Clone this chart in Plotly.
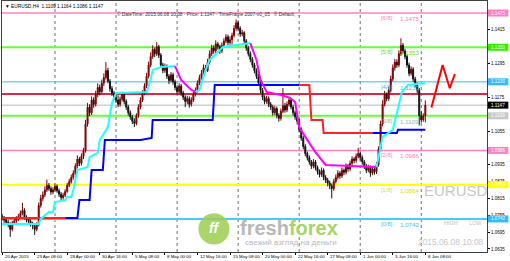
import plotly.graph_objects as go

# ---------------- data ----------------
bar_index = list(range(209))

open_ = [1.0752,1.0745,1.0738,1.0730,1.0722,1.0705,1.0728,1.0735,1.0742,1.0750,
         1.0762,1.0772,1.0748,1.0740,1.0733,1.0725,1.0718,1.0705,1.0722,1.0790,
         1.0815,1.0828,1.0845,1.0862,1.0850,1.0838,1.0846,1.0858,1.0842,1.0830,
         1.0818,1.0826,1.0840,1.0862,1.0875,1.0890,1.0905,1.0930,1.0955,1.0940,
         1.0965,1.0985,1.1080,1.1140,1.1120,1.1165,1.1150,1.1185,1.1210,1.1195,
         1.1225,1.1245,1.1270,1.1232,1.1205,1.1190,1.1175,1.1165,1.1150,1.1168,
         1.1185,1.1160,1.1140,1.1120,1.1105,1.1090,1.1082,1.1110,1.1140,1.1165,
         1.1190,1.1215,1.1250,1.1290,1.1320,1.1345,1.1330,1.1355,1.1325,1.1290,
         1.1270,1.1285,1.1250,1.1235,1.1255,1.1230,1.1210,1.1195,1.1215,1.1190,
         1.1175,1.1160,1.1170,1.1150,1.1165,1.1185,1.1200,1.1225,1.1245,1.1260,
         1.1280,1.1270,1.1300,1.1330,1.1350,1.1340,1.1365,1.1355,1.1340,1.1360,
         1.1375,1.1390,1.1370,1.1380,1.1395,1.1420,1.1440,1.1420,1.1400,1.1405,
         1.1375,1.1350,1.1330,1.1310,1.1290,1.1270,1.1250,1.1225,1.1200,1.1175,
         1.1160,1.1170,1.1150,1.1140,1.1120,1.1135,1.1110,1.1100,1.1125,1.1145,
         1.1130,1.1150,1.1165,1.1140,1.1120,1.1105,1.1090,1.1060,1.1030,1.1000,
         1.0975,1.0960,1.0945,1.0930,1.0945,1.0925,1.0910,1.0900,1.0915,1.0890,
         1.0880,1.0870,1.0860,1.0850,1.0875,1.0890,1.0905,1.0895,1.0915,1.0908,
         1.0930,1.0920,1.0940,1.0955,1.0950,1.0965,1.0975,1.0960,1.0945,1.0930,
         1.0915,1.0925,1.0905,1.0920,1.0910,1.0935,1.0990,1.1080,1.1150,1.1185,
         1.1170,1.1200,1.1240,1.1280,1.1300,1.1290,1.1330,1.1360,1.1340,1.1320,
         1.1290,1.1260,1.1275,1.1240,1.1220,1.1200,1.1110,1.1095,1.1109]

high = [1.0760,1.0752,1.0745,1.0738,1.0730,1.0735,1.0745,1.0752,1.0760,1.0772,
        1.0799,1.0780,1.0755,1.0748,1.0740,1.0732,1.0725,1.0730,1.0800,1.0828,
        1.0840,1.0858,1.0882,1.0870,1.0858,1.0855,1.0868,1.0865,1.0850,1.0838,
        1.0835,1.0848,1.0870,1.0885,1.0900,1.0915,1.0940,1.0968,1.0962,1.0975,
        1.0995,1.1095,1.1155,1.1150,1.1178,1.1175,1.1198,1.1225,1.1220,1.1238,
        1.1260,1.1300,1.1280,1.1240,1.1215,1.1198,1.1185,1.1182,1.1178,1.1195,
        1.1190,1.1168,1.1148,1.1128,1.1112,1.1100,1.1118,1.1150,1.1175,1.1200,
        1.1225,1.1262,1.1302,1.1335,1.1360,1.1352,1.1372,1.1362,1.1332,1.1298,
        1.1295,1.1292,1.1258,1.1265,1.1262,1.1238,1.1218,1.1225,1.1222,1.1198,
        1.1182,1.1180,1.1178,1.1175,1.1195,1.1210,1.1235,1.1255,1.1272,1.1292,
        1.1290,1.1312,1.1342,1.1362,1.1360,1.1378,1.1372,1.1362,1.1370,1.1385,
        1.1400,1.1398,1.1392,1.1405,1.1432,1.1452,1.1448,1.1428,1.1415,1.1410,
        1.1382,1.1358,1.1338,1.1318,1.1298,1.1278,1.1258,1.1232,1.1208,1.1182,
        1.1180,1.1178,1.1158,1.1148,1.1145,1.1142,1.1118,1.1135,1.1208,1.1155,
        1.1160,1.1175,1.1172,1.1148,1.1128,1.1112,1.1098,1.1068,1.1038,1.1008,
        1.0982,1.0968,1.0952,1.0955,1.0952,1.0932,1.0918,1.0925,1.0922,1.0898,
        1.0888,1.0878,1.0868,1.0885,1.0900,1.0915,1.0912,1.0925,1.0922,1.0940,
        1.0938,1.0950,1.0965,1.0962,1.0975,1.0995,1.0982,1.0968,1.0952,1.0938,
        1.0935,1.0932,1.0930,1.0928,1.0945,1.1000,1.1092,1.1165,1.1198,1.1192,
        1.1212,1.1252,1.1292,1.1312,1.1310,1.1342,1.1385,1.1368,1.1348,1.1328,
        1.1298,1.1285,1.1282,1.1248,1.1228,1.1208,1.1125,1.1118,1.1164]

low = [1.0736,1.0728,1.0720,1.0712,1.0678,1.0698,1.0720,1.0728,1.0735,1.0744,
       1.0755,1.0740,1.0730,1.0722,1.0715,1.0705,1.0685,1.0698,1.0715,1.0782,
       1.0805,1.0820,1.0838,1.0842,1.0828,1.0830,1.0840,1.0835,1.0820,1.0808,
       1.0810,1.0820,1.0835,1.0855,1.0868,1.0882,1.0898,1.0922,1.0930,1.0932,
       1.0955,1.0978,1.1070,1.1108,1.1112,1.1138,1.1142,1.1175,1.1182,1.1188,
       1.1215,1.1238,1.1225,1.1195,1.1180,1.1165,1.1155,1.1140,1.1142,1.1160,
       1.1150,1.1130,1.1110,1.1095,1.1080,1.1069,1.1075,1.1102,1.1132,1.1158,
       1.1182,1.1208,1.1242,1.1282,1.1312,1.1318,1.1322,1.1315,1.1280,1.1260,
       1.1262,1.1240,1.1222,1.1228,1.1220,1.1200,1.1185,1.1188,1.1180,1.1165,
       1.1140,1.1150,1.1138,1.1142,1.1158,1.1178,1.1192,1.1218,1.1238,1.1252,
       1.1262,1.1265,1.1292,1.1322,1.1330,1.1332,1.1345,1.1330,1.1332,1.1352,
       1.1368,1.1360,1.1362,1.1362,1.1388,1.1412,1.1410,1.1390,1.1392,1.1365,
       1.1340,1.1320,1.1300,1.1280,1.1260,1.1240,1.1215,1.1190,1.1165,1.1150,
       1.1152,1.1140,1.1130,1.1110,1.1112,1.1100,1.1088,1.1092,1.1118,1.1120,
       1.1122,1.1142,1.1132,1.1110,1.1095,1.1078,1.1050,1.1020,1.0990,1.0965,
       1.0950,1.0935,1.0920,1.0922,1.0915,1.0900,1.0890,1.0892,1.0880,1.0870,
       1.0858,1.0848,1.0815,1.0842,1.0868,1.0882,1.0885,1.0888,1.0898,1.0900,
       1.0910,1.0912,1.0932,1.0940,1.0942,1.0958,1.0950,1.0935,1.0920,1.0905,
       1.0908,1.0892,1.0898,1.0900,1.0902,1.0928,1.0982,1.1072,1.1142,1.1160,
       1.1162,1.1192,1.1232,1.1270,1.1280,1.1282,1.1322,1.1330,1.1310,1.1280,
       1.1250,1.1252,1.1230,1.1210,1.1190,1.1075,1.1085,1.1088,1.1086]

close = [1.0745,1.0738,1.0730,1.0722,1.0705,1.0728,1.0735,1.0742,1.0750,1.0762,
         1.0772,1.0748,1.0740,1.0733,1.0725,1.0718,1.0705,1.0722,1.0790,1.0815,
         1.0828,1.0845,1.0862,1.0850,1.0838,1.0846,1.0858,1.0842,1.0830,1.0818,
         1.0826,1.0840,1.0862,1.0875,1.0890,1.0905,1.0930,1.0955,1.0940,1.0965,
         1.0985,1.1080,1.1140,1.1120,1.1165,1.1150,1.1185,1.1210,1.1195,1.1225,
         1.1245,1.1270,1.1232,1.1205,1.1190,1.1175,1.1165,1.1150,1.1168,1.1185,
         1.1160,1.1140,1.1120,1.1105,1.1090,1.1082,1.1110,1.1140,1.1165,1.1190,
         1.1215,1.1250,1.1290,1.1320,1.1345,1.1330,1.1355,1.1325,1.1290,1.1270,
         1.1285,1.1250,1.1235,1.1255,1.1230,1.1210,1.1195,1.1215,1.1190,1.1175,
         1.1160,1.1170,1.1150,1.1165,1.1185,1.1200,1.1225,1.1245,1.1260,1.1280,
         1.1270,1.1300,1.1330,1.1350,1.1340,1.1365,1.1355,1.1340,1.1360,1.1375,
         1.1390,1.1370,1.1380,1.1395,1.1420,1.1440,1.1420,1.1400,1.1405,1.1375,
         1.1350,1.1330,1.1310,1.1290,1.1270,1.1250,1.1225,1.1200,1.1175,1.1160,
         1.1170,1.1150,1.1140,1.1120,1.1135,1.1110,1.1100,1.1125,1.1145,1.1130,
         1.1150,1.1165,1.1140,1.1120,1.1105,1.1090,1.1060,1.1030,1.1000,1.0975,
         1.0960,1.0945,1.0930,1.0945,1.0925,1.0910,1.0900,1.0915,1.0890,1.0880,
         1.0870,1.0860,1.0850,1.0875,1.0890,1.0905,1.0895,1.0915,1.0908,1.0930,
         1.0920,1.0940,1.0955,1.0950,1.0965,1.0975,1.0960,1.0945,1.0930,1.0915,
         1.0925,1.0905,1.0920,1.0910,1.0935,1.0990,1.1080,1.1150,1.1185,1.1170,
         1.1200,1.1240,1.1280,1.1300,1.1290,1.1330,1.1360,1.1340,1.1320,1.1290,
         1.1260,1.1275,1.1240,1.1220,1.1200,1.1110,1.1095,1.1109,1.1147]

x_tick_bars = [0, 16, 32, 48, 64, 80, 96, 112, 128, 144, 160, 176, 192, 208]
x_tick_labels = ["20 Apr 2015", "23 Apr 08:00", "28 Apr 00:00", "30 Apr 16:00",
                 "5 May 08:00", "8 May 00:00", "12 May 16:00", "15 May 08:00",
                 "20 May 00:00", "22 May 16:00", "27 May 08:00", "1 Jun 00:00",
                 "3 Jun 16:00", "8 Jun 08:00"]
week_start_bars = [26, 56, 86, 116, 146, 176, 206]

y_tick_values = [1.1415, 1.1295, 1.1175, 1.1055, 1.0935, 1.0875, 1.0815, 1.0755, 1.0695, 1.0635]

murray_levels = [1.1475, 1.1353, 1.1230, 1.1109, 1.0986, 1.0864, 1.0742]
murray_names = ["[6/8]", "[5/8]", "[4/8]", "[3/8]", "[2/8]", "[1/8]", "[0/8]"]
pivot_level = 1.1187
bid_price = 1.1147

# fast trailing line (cyan = up, magenta = down)
cyan_1_x = [0, 18, 19, 23, 25, 26, 31, 32, 34, 35, 37, 42, 43, 47, 48, 52, 54, 56, 71, 73, 74, 78, 85]
cyan_1_y = [1.0724, 1.0724, 1.0742, 1.0767, 1.0767, 1.0802, 1.0809, 1.0820, 1.0820, 1.0845, 1.0916,
            1.0927, 1.0962, 1.0977, 1.1023, 1.1069, 1.1155, 1.1190, 1.1194, 1.1237, 1.1272, 1.1283, 1.1286]
magenta_1_x = [85, 88, 93, 95]
magenta_1_y = [1.1286, 1.1237, 1.1201, 1.1194]
cyan_2_x = [95, 97, 100, 102, 107, 108.5, 115, 122]
cyan_2_y = [1.1194, 1.1201, 1.1272, 1.1308, 1.1343, 1.1354, 1.1361, 1.1368]
magenta_2_x = [122, 125, 127, 130, 137, 141.5, 144, 146, 151, 154, 159, 184]
magenta_2_y = [1.1368, 1.1308, 1.1237, 1.1194, 1.1183, 1.1173, 1.1158, 1.1069, 1.1012, 1.0980, 1.0934, 1.0927]
cyan_3_x = [184, 187, 192, 194, 196.5, 199.5, 208]
cyan_3_y = [1.0927, 1.1034, 1.1059, 1.1119, 1.1194, 1.1219, 1.1226]

# slow trailing line (blue = up, red = down)
red_1_x = [0, 31]
red_1_y = [1.0745, 1.0745]
blue_1_x = [31, 37, 38, 43, 44, 49.5, 50.5, 68, 73.5, 74, 103.5, 104.5, 146]
blue_1_y = [1.0745, 1.0745, 1.0809, 1.0809, 1.0916, 1.0916, 1.1023, 1.1023, 1.1030, 1.1094, 1.1094, 1.1219, 1.1219]
red_2_x = [146, 151, 152, 157.5, 158, 182]
red_2_y = [1.1219, 1.1219, 1.1094, 1.1094, 1.1048, 1.1048]
blue_2_x = [182, 194, 194.5, 208]
blue_2_y = [1.1048, 1.1048, 1.1059, 1.1059]

# forecast zigzag
forecast_x = [211, 216.5, 220, 222.5]
forecast_y = [1.1139, 1.1290, 1.1207, 1.1258]

# ---------------- styles ----------------
FONT = "Liberation Sans"
murray_colors = ["#ff80c0", "#66ff33", "#33bbff", "#66ff33", "#ff80c0", "#ffff00", "#44ccff"]
murray_widths = [1.5, 2, 1, 2, 1.5, 2, 2]
murray_text_colors = ["#ff80c0", "#66dd33", "#33bbff", "#99bb99", "#ff80c0", "#dddd00", "#44bbff"]
box_colors = ["#ff80c0", "#33ee00", "#33bbff", "#c8c8c8", "#ff80c0", "#ffff00", "#33bbff"]

fig = go.Figure()

fig.add_trace(go.Candlestick(
    x=bar_index, open=open_, high=high, low=low, close=close,
    increasing=dict(line=dict(color="#800000", width=1), fillcolor="#800000"),
    decreasing=dict(line=dict(color="#111111", width=1), fillcolor="#111111"),
    whiskerwidth=0, showlegend=False, hoverinfo="skip"))

def add_line(xs, ys, color, width=2):
    fig.add_trace(go.Scatter(x=xs, y=ys, mode="lines", line=dict(color=color, width=width),
                             showlegend=False, hoverinfo="skip"))

add_line(red_1_x, red_1_y, "#ff2020")
add_line(blue_1_x, blue_1_y, "#0000ff")
add_line(red_2_x, red_2_y, "#ff2020")
add_line(blue_2_x, blue_2_y, "#0000ff")
add_line(cyan_1_x, cyan_1_y, "#22ffff")
add_line(magenta_1_x, magenta_1_y, "#ff00ff")
add_line(cyan_2_x, cyan_2_y, "#22ffff")
add_line(magenta_2_x, magenta_2_y, "#ff00ff")
add_line(cyan_3_x, cyan_3_y, "#22ffff")
add_line(forecast_x, forecast_y, "#ff0000", 2)

shapes = []
annotations = []

def note(**kw):
    kw.setdefault("showarrow", False)
    kw.setdefault("xanchor", "center")
    kw.setdefault("yanchor", "middle")
    annotations.append(kw)

# weekly separators
for wb in week_start_bars:
    shapes.append(dict(type="line", xref="x", yref="paper", x0=wb, x1=wb, y0=0, y1=1,
                       line=dict(color="#707070", width=1, dash="dot"), layer="below"))

# level lines
for lv, col, w in zip(murray_levels, murray_colors, murray_widths):
    shapes.append(dict(type="line", xref="paper", yref="y", x0=0, x1=1, y0=lv, y1=lv,
                       line=dict(color=col, width=w), layer="below"))
shapes.append(dict(type="line", xref="paper", yref="y", x0=0, x1=1, y0=pivot_level, y1=pivot_level,
                   line=dict(color="#dc2846", width=2), layer="below"))
shapes.append(dict(type="line", xref="paper", yref="y", x0=0, x1=1, y0=bid_price, y1=bid_price,
                   line=dict(color="#b8b8b8", width=1), layer="below"))

# logo circle
shapes.append(dict(type="circle", xref="paper", yref="paper", x0=0.405, x1=0.469, y0=0.03, y1=0.154,
                   fillcolor="#9ccc50", line=dict(width=0), layer="below", opacity=0.85))

# right axis boxes
bx0, bx1 = 1.002, 1.044
for lv, col in zip(murray_levels, box_colors):
    shapes.append(dict(type="rect", xref="paper", yref="y", x0=bx0, x1=bx1,
                       y0=lv - 0.00125, y1=lv + 0.00125, fillcolor=col, line=dict(width=0)))
    note(xref="paper", yref="y", x=(bx0 + bx1) / 2, y=lv, text=f"{lv:.4f}",
         font=dict(family=FONT, size=4.6, color="white"))
shapes.append(dict(type="rect", xref="paper", yref="y", x0=bx0, x1=bx1,
                   y0=bid_price - 0.00125, y1=bid_price + 0.00125, fillcolor="#000000", line=dict(width=0)))
note(xref="paper", yref="y", x=(bx0 + bx1) / 2, y=bid_price, text=f"{bid_price:.4f}",
     font=dict(family=FONT, size=4.6, color="white"))

# x-axis labels (MT4 style: text starts at the tick)
for tb, tl in zip(x_tick_bars, x_tick_labels):
    note(xref="x", yref="paper", x=tb, y=-0.017, xanchor="left", xshift=0.5, text=tl,
         font=dict(family=FONT, size=4.4, color="#000000"))

# murray labels
for lv, nm, col in zip(murray_levels, murray_names, murray_text_colors):
    note(xref="x", yref="y", x=185, y=lv, text=nm, xanchor="left", yanchor="top",
         font=dict(family=FONT, size=5.8, color=col))
    note(xref="x", yref="y", x=194.5, y=lv, text=f"{lv:.4f}", xanchor="left", yanchor="top",
         font=dict(family=FONT, size=6.2, color=col))

# header texts
note(xref="paper", yref="paper", x=0.002, y=0.977, xanchor="left",
     text="▼ EURUSD,H4  1.1109 1.1164 1.1086 1.1147",
     font=dict(family=FONT, size=4.8, color="#000000"))
note(xref="paper", yref="paper", x=0.233, y=0.950, xanchor="left",
     text="© DateTime: 2015.06.08 10:08 · Price: 1.1147 · TimeFrame 2007-v0_05   ® Default, ...",
     font=dict(family=FONT, size=4.8, color="#333333"))

# watermarks
note(xref="paper", yref="paper", x=0.936, y=0.247, text="EURUSD",
     font=dict(family=FONT, size=15, color="#c8c8c8"))
note(xref="paper", yref="paper", x=0.926, y=0.115, text="HIGH",
     font=dict(family=FONT, size=5.5, color="#c0c0c0"))
note(xref="paper", yref="paper", x=0.977, y=0.115, text="LOW",
     font=dict(family=FONT, size=5.5, color="#c0c0c0"))
note(xref="paper", yref="paper", x=0.997, y=0.040, xanchor="right", text="2015.06.08 10:08",
     font=dict(family=FONT, size=8.4, color="#c8c8c8"))
note(xref="paper", yref="paper", x=0.437, y=0.094, text="<b><i>ff</i></b>",
     font=dict(family=FONT, size=14, color="white"))
note(xref="paper", yref="paper", x=0.486, y=0.094, xanchor="left",
     text="<b><span style='color:#b8b8b8'>fresh</span><span style='color:#a6d46a'>forex</span></b>",
     font=dict(family=FONT, size=20))
note(xref="paper", yref="paper", x=0.497, y=0.038, xanchor="left",
     text="свежий взгляд на деньги",
     font=dict(family=FONT, size=8, color="#b8b8b8"))

fig.update_layout(
    width=510, height=261,
    margin=dict(l=2, r=23, t=1, b=9, autoexpand=False),
    paper_bgcolor="white", plot_bgcolor="white",
    showlegend=False,
    shapes=shapes, annotations=annotations,
    xaxis=dict(range=[-0.05, 238.3], showgrid=False, zeroline=False,
               tickmode="array", tickvals=x_tick_bars, showticklabels=False,
               ticks="outside", ticklen=2, tickcolor="#000000",
               showline=True, linecolor="#404040", linewidth=1, mirror=True,
               rangeslider=dict(visible=False), fixedrange=True),
    yaxis=dict(range=[1.06243, 1.15177], side="right", showgrid=False, zeroline=False,
               tickmode="array", tickvals=y_tick_values,
               ticktext=[f"{v:.4f}" for v in y_tick_values],
               ticks="outside", ticklen=2, tickcolor="#000000",
               tickfont=dict(family=FONT, size=4.5, color="#000000"),
               showline=True, linecolor="#404040", linewidth=1, mirror=True, fixedrange=True),
)

fig.write_html("out.html")
